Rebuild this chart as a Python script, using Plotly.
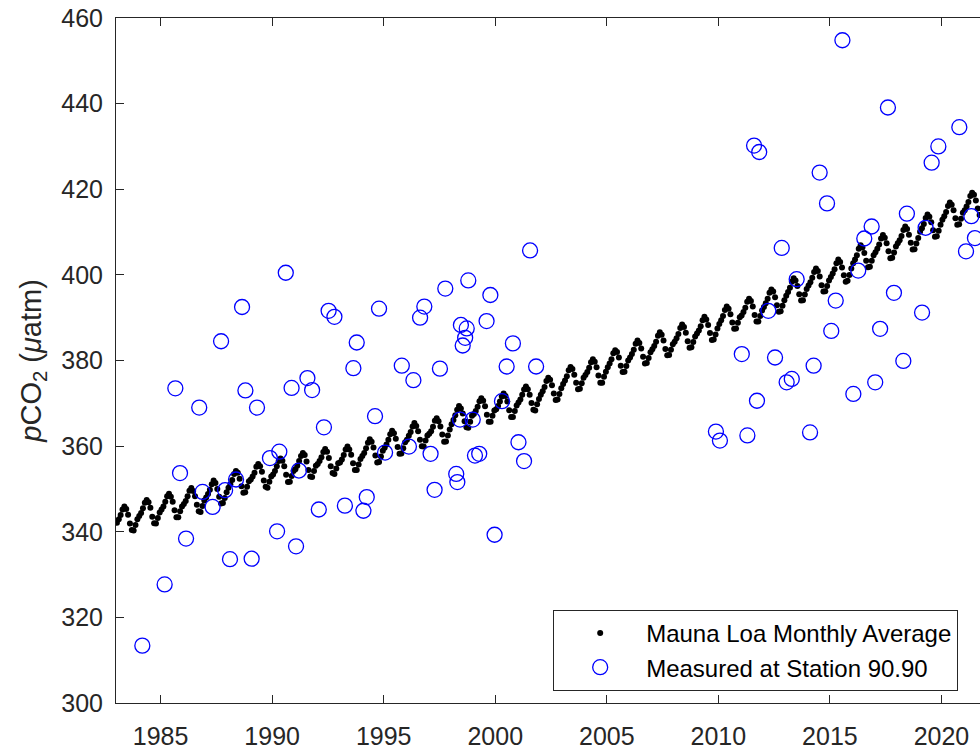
import plotly.graph_objects as go

# Mauna Loa monthly mean CO2 (ppm), January to December, one row per year from 1983
mlo_first_year = 1983
mlo_ppm = [
    342.1, 342.9, 343.9, 345.2, 345.9, 345.3, 344.0, 341.9, 340.4, 340.3, 341.6, 342.9,  # 1983
    343.7, 344.4, 345.5, 346.8, 347.4, 346.9, 345.6, 343.5, 342.0, 341.9, 343.2, 344.5,  # 1984
    345.2, 345.9, 347.0, 348.3, 348.9, 348.2, 347.0, 345.0, 343.4, 343.4, 344.8, 345.9,  # 1985
    346.5, 347.2, 348.3, 349.6, 350.2, 349.5, 348.3, 346.3, 344.8, 344.6, 346.0, 347.3,  # 1986
    348.0, 348.8, 349.8, 351.1, 352.0, 351.4, 350.0, 348.2, 346.6, 346.7, 347.9, 349.2,  # 1987
    350.3, 351.1, 352.1, 353.5, 354.2, 353.8, 352.4, 350.6, 349.1, 349.2, 350.5, 351.8,  # 1988
    352.2, 352.9, 353.8, 355.2, 355.8, 355.3, 354.0, 352.0, 350.5, 350.3, 351.7, 352.9,  # 1989
    353.4, 354.2, 355.3, 356.5, 357.1, 356.6, 355.3, 353.3, 351.6, 351.7, 353.0, 354.2,  # 1990
    354.6, 355.4, 356.5, 357.7, 358.4, 357.9, 356.4, 354.4, 352.9, 352.8, 354.2, 355.4,  # 1991
    355.8, 356.5, 357.4, 358.6, 359.3, 358.7, 357.2, 355.3, 353.7, 353.5, 354.8, 356.0,  # 1992
    356.2, 356.9, 357.9, 359.2, 359.9, 359.2, 358.0, 356.0, 354.4, 354.4, 355.7, 357.0,  # 1993
    357.7, 358.4, 359.5, 360.8, 361.6, 361.0, 359.7, 357.8, 356.2, 356.3, 357.6, 358.9,  # 1994
    359.6, 360.4, 361.5, 362.8, 363.6, 363.0, 361.7, 359.8, 358.2, 358.3, 359.5, 360.9,  # 1995
    361.5, 362.4, 363.3, 364.6, 365.4, 364.7, 363.5, 361.5, 360.0, 359.9, 361.3, 362.5,  # 1996
    362.9, 363.5, 364.5, 365.9, 366.5, 365.8, 364.6, 362.7, 361.0, 361.1, 362.5, 363.9,  # 1997
    365.1, 366.1, 367.2, 368.5, 369.4, 368.8, 367.6, 365.8, 364.4, 364.3, 365.7, 367.1,  # 1998
    367.5, 368.2, 369.2, 370.5, 371.2, 370.6, 369.3, 367.3, 365.7, 365.7, 367.1, 368.3,  # 1999
    368.6, 369.4, 370.4, 371.6, 372.3, 371.7, 370.4, 368.4, 366.8, 366.8, 368.2, 369.5,  # 2000
    370.2, 370.9, 372.0, 373.2, 373.9, 373.3, 372.0, 370.1, 368.5, 368.3, 369.8, 371.0,  # 2001
    372.0, 372.8, 373.8, 375.2, 376.0, 375.5, 374.2, 372.3, 370.8, 370.9, 372.2, 373.5,  # 2002
    374.5, 375.3, 376.3, 377.7, 378.5, 378.0, 376.7, 374.8, 373.3, 373.4, 374.7, 376.0,  # 2003
    376.6, 377.3, 378.3, 379.6, 380.3, 379.7, 378.4, 376.5, 374.8, 374.8, 376.2, 377.4,  # 2004
    378.4, 379.3, 380.3, 381.7, 382.4, 382.0, 380.7, 378.8, 377.3, 377.4, 378.7, 380.0,  # 2005
    380.7, 381.5, 382.5, 383.9, 384.7, 384.1, 382.8, 380.9, 379.3, 379.4, 380.6, 381.9,  # 2006
    382.6, 383.4, 384.4, 385.8, 386.6, 386.0, 384.7, 382.7, 381.2, 381.3, 382.5, 383.8,  # 2007
    384.4, 385.2, 386.2, 387.6, 388.4, 387.8, 386.5, 384.5, 383.0, 383.1, 384.3, 385.6,  # 2008
    386.3, 387.0, 388.0, 389.4, 390.2, 389.6, 388.3, 386.4, 384.8, 384.9, 386.1, 387.5,  # 2009
    388.5, 389.4, 390.4, 391.8, 392.6, 392.1, 390.8, 388.9, 387.4, 387.5, 388.8, 390.1,  # 2010
    390.5, 391.3, 392.3, 393.7, 394.4, 393.9, 392.6, 390.6, 389.1, 389.1, 390.4, 391.7,  # 2011
    392.5, 393.4, 394.4, 395.8, 396.6, 396.1, 394.8, 392.9, 391.4, 391.5, 392.8, 394.1,  # 2012
    395.1, 396.0, 397.0, 398.4, 399.2, 398.7, 397.4, 395.5, 394.0, 394.1, 395.4, 396.7,  # 2013
    397.5, 398.3, 399.3, 400.7, 401.5, 400.9, 399.6, 397.6, 396.1, 396.2, 397.4, 398.7,  # 2014
    399.5, 400.3, 401.3, 402.7, 403.6, 403.0, 401.7, 399.9, 398.4, 398.6, 400.0, 401.5,  # 2015
    402.7, 403.6, 404.6, 406.1, 406.9, 406.4, 405.1, 403.3, 401.8, 401.9, 403.3, 404.6,  # 2016
    405.3, 406.1, 407.1, 408.5, 409.3, 408.7, 407.4, 405.5, 403.9, 404.0, 405.2, 406.6,  # 2017
    407.4, 408.1, 409.1, 410.5, 411.3, 410.7, 409.4, 407.5, 405.9, 406.0, 407.3, 408.6,  # 2018
    410.1, 410.9, 411.9, 413.3, 414.1, 413.6, 412.3, 410.4, 408.9, 409.0, 410.3, 411.7,  # 2019
    412.9, 413.7, 414.7, 416.1, 416.9, 416.4, 415.1, 413.2, 411.7, 411.8, 413.1, 414.5,  # 2020
    415.1, 416.0, 417.0, 418.4, 419.2, 418.7, 417.4, 415.5, 414.0, 414.1, 415.4, 416.7,  # 2021
]

# Surface-water pCO2 samples taken at Station 90.90 (decimal year, uatm)
station_year = [
    1984.18, 1985.18, 1985.66, 1985.87, 1986.14, 1986.73, 1986.88, 1987.33, 1987.71, 1987.89,
    1988.11, 1988.38, 1988.65, 1988.80, 1989.08, 1989.32, 1989.90, 1990.22, 1990.32, 1990.61,
    1990.87, 1991.07, 1991.20, 1991.58, 1991.79, 1992.09, 1992.32, 1992.53, 1992.79, 1993.26,
    1993.64, 1993.79, 1994.09, 1994.24, 1994.61, 1994.79, 1995.06, 1995.81, 1996.13, 1996.33,
    1996.63, 1996.82, 1997.10, 1997.28, 1997.52, 1997.76, 1998.25, 1998.30, 1998.42, 1998.46,
    1998.54, 1998.65, 1998.72, 1998.79, 1998.99, 1999.09, 1999.28, 1999.61, 1999.78, 1999.97,
    2000.30, 2000.51, 2000.79, 2001.04, 2001.29, 2001.56, 2001.83,
    2009.89, 2010.07, 2011.05, 2011.30, 2011.60, 2011.73, 2011.83, 2012.24, 2012.54, 2012.84,
    2013.06, 2013.29, 2013.51, 2014.11, 2014.27, 2014.54, 2014.87, 2015.06, 2015.26, 2015.56,
    2016.05, 2016.27, 2016.54, 2016.87, 2017.03, 2017.25, 2017.60, 2017.87, 2018.29, 2018.45,
    2019.13, 2019.29, 2019.56, 2019.86, 2020.80, 2021.10, 2021.34, 2021.50,
]
station_pco2 = [
    313.4, 327.7, 373.5, 353.7, 338.4, 369.0, 349.3, 345.8, 384.5, 349.7,
    333.6, 352.2, 392.5, 373.0, 333.7, 369.0, 357.2, 340.1, 358.7, 400.5,
    373.6, 336.6, 354.3, 375.9, 373.1, 345.2, 364.4, 391.6, 390.2, 346.1,
    378.2, 384.2, 344.9, 348.1, 367.0, 392.1, 358.5, 378.8, 359.9, 375.4,
    390.0, 392.6, 358.2, 349.8, 378.1, 396.8, 353.5, 351.6, 366.2, 388.3,
    383.5, 385.3, 387.5, 398.7, 366.2, 357.8, 358.2, 389.2, 395.3, 339.3,
    370.5, 378.6, 384.0, 360.9, 356.5, 405.7, 378.6,
    363.4, 361.3, 381.5, 362.5, 430.2, 370.6, 428.7, 391.6, 380.7, 406.3,
    374.9, 375.7, 399.0, 363.2, 378.8, 423.9, 416.7, 386.9, 394.0, 454.8,
    372.2, 401.0, 408.5, 411.3, 374.9, 387.4, 439.1, 395.8, 379.9, 414.3,
    391.2, 411.0, 426.2, 430.0, 434.5, 405.5, 413.7, 408.6,
]

x_ticks = [1985, 1990, 1995, 2000, 2005, 2010, 2015, 2020]
y_ticks = [300, 320, 340, 360, 380, 400, 420, 440, 460]

# mid-month decimal dates for the monthly record
mlo_year = [mlo_first_year + i // 12 + (i % 12 + 0.5) / 12 for i in range(len(mlo_ppm))]

INK = "#262626"
FONT = "Liberation Sans, Arial, Helvetica, sans-serif"

fig = go.Figure()
fig.add_trace(go.Scatter(
    x=mlo_year, y=mlo_ppm, mode="markers", name="Mauna Loa Monthly Average",
    marker=dict(color="black", size=6, line=dict(width=0)),
))
fig.add_trace(go.Scatter(
    x=station_year, y=station_pco2, mode="markers", name="Measured at Station 90.90",
    marker=dict(symbol="circle-open", color="#0000ff", size=15, line=dict(width=1.3, color="#0000ff")),
))

axis_common = dict(
    showgrid=False, zeroline=False, showline=True, linecolor=INK, linewidth=1,
    ticks="inside", ticklen=8, tickwidth=1, tickcolor=INK,
    tickfont=dict(family=FONT, size=25, color=INK),
)

fig.update_layout(
    width=980, height=750,
    margin=dict(l=116, r=0, t=18, b=47),
    paper_bgcolor="white", plot_bgcolor="white",
    showlegend=True,
    legend=dict(
        x=0.506, y=0.136, xanchor="left", yanchor="top",
        bgcolor="white", bordercolor=INK, borderwidth=1,
        font=dict(family=FONT, size=24, color="black"),
        itemwidth=82, tracegroupgap=0,
    ),
    xaxis=dict(
        range=[1983, 2021.727], tickvals=x_ticks, ticktext=[str(t) for t in x_ticks],
        mirror="ticks", ticklabelstandoff=11, **axis_common,
    ),
    yaxis=dict(
        range=[300, 460], tickvals=y_ticks, ticktext=[str(t) for t in y_ticks],
        ticklabelstandoff=7, **axis_common,
    ),
    yaxis2=dict(
        overlaying="y", side="right", anchor="x", range=[300, 460], tickvals=y_ticks,
        showticklabels=False, showgrid=False, zeroline=False, showline=False,
        ticks="inside", ticklen=5, tickcolor=INK,
    ),
)

fig.add_annotation(
    xref="paper", yref="paper", x=-0.097, y=0.5, xanchor="center", yanchor="middle",
    text="<i>p</i>CO<sub>2</sub> (<i>μ</i>atm)", textangle=-90, showarrow=False,
    font=dict(family=FONT, size=29, color=INK),
)

fig.write_html("out.html")
